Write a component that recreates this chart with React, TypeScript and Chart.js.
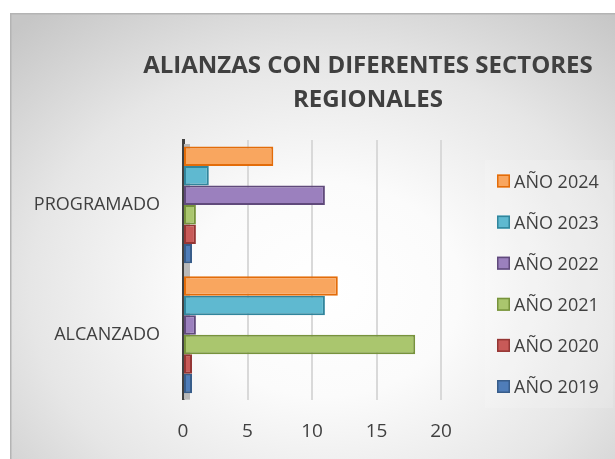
import React, { useEffect, useRef } from "react";
import { Chart, registerables } from "chart.js";

Chart.register(...registerables);

// ---- Data ----
const categories = ["PROGRAMADO", "ALCANZADO"];
const seriesNames = ["AÑO 2024", "AÑO 2023", "AÑO 2022", "AÑO 2021", "AÑO 2020", "AÑO 2019"];
const values2024 = [7, 12];
const values2023 = [2, 11];
const values2022 = [11, 1];
const values2021 = [1, 18];
const values2020 = [1, 0];
const values2019 = [0, 0];
const xTickValues = [0, 5, 10, 15, 20];
const titleLines = ["ALIANZAS CON DIFERENTES SECTORES", "REGIONALES"];

// ---- Styles ----
const fillColors = ["#F9A65F", "#5FB9D0", "#9B80BE", "#AAC66E", "#C85A58", "#4F7DB9"];
const borderColors = ["#E36C09", "#31859C", "#604A7B", "#77933C", "#943634", "#385D8A"];
const FONT = "'Open Sans', 'DejaVu Sans', sans-serif";
const TEXT = "#404040";

const W = 605;
const H = 446;

const decorPlugin = {
  id: "decor",
  beforeDraw(chart: any) {
    const ctx = chart.ctx;
    ctx.save();
    ctx.strokeStyle = "#b4b4b4";
    ctx.lineWidth = 1.5;
    ctx.beginPath();
    ctx.moveTo(0.75, H);
    ctx.lineTo(0.75, 0.75);
    ctx.lineTo(W, 0.75);
    ctx.stroke();
    ctx.restore();
  },
  beforeDatasetsDraw(chart: any) {
    const ctx = chart.ctx;
    const a = chart.chartArea;
    ctx.save();
    ctx.fillStyle = "#b9b9b9";
    ctx.fillRect(a.left + 1, a.top + 4, 6, a.bottom - a.top - 4);
    ctx.restore();
  },
  afterDraw(chart: any) {
    const ctx = chart.ctx;
    ctx.save();
    // Title
    ctx.fillStyle = TEXT;
    ctx.font = `bold 24px ${FONT}`;
    ctx.textAlign = "center";
    ctx.textBaseline = "alphabetic";
    const cx = 358;
    ctx.fillText(titleLines[0], cx, 60);
    ctx.fillText(titleLines[1], cx, 93.5);

    // Legend
    ctx.fillStyle = "rgba(255,255,255,0.14)";
    ctx.fillRect(475, 147, 128, 248);
    const ds = chart.data.datasets;
    ctx.font = `18px ${FONT}`;
    ctx.textAlign = "left";
    for (let i = 0; i < ds.length; i++) {
      const cy = 168 + i * 41.1;
      ctx.fillStyle = ds[i].backgroundColor;
      ctx.fillRect(487, cy - 6.5, 13, 13);
      ctx.strokeStyle = ds[i].borderColor;
      ctx.lineWidth = 1.5;
      ctx.strokeRect(487.75, cy - 5.75, 11.5, 11.5);
      ctx.fillStyle = TEXT;
      ctx.fillText(ds[i].label, 504, cy + 6.5);
    }
    ctx.restore();
  },
};

export default function App() {
  const ref = useRef<HTMLCanvasElement | null>(null);

  useEffect(() => {
    if (!ref.current) return;
    const series = [values2024, values2023, values2022, values2021, values2020, values2019];
    const chart = new Chart(ref.current, {
      type: "bar",
      data: {
        labels: categories,
        datasets: series.map((v, i) => ({
          label: seriesNames[i],
          data: v,
          backgroundColor: fillColors[i],
          borderColor: borderColors[i],
          borderWidth: 2,
          borderSkipped: false,
          minBarLength: 9,
          clip: 0,
          categoryPercentage: 0.9,
          barPercentage: 1,
        })),
      },
      options: {
        indexAxis: "y",
        animation: false,
        responsive: false,
        maintainAspectRatio: false,
        layout: { padding: { top: 127, right: 174, bottom: 16.5, left: 0 } },
        plugins: {
          legend: { display: false },
          title: { display: false },
          tooltip: { enabled: false },
        },
        scales: {
          x: {
            min: 0,
            max: 20,
            afterBuildTicks: (s: any) => {
              s.ticks = xTickValues.map((v) => ({ value: v }));
            },
            afterFit: (s: any) => {
              s.height = 42.8;
            },
            ticks: {
              font: { family: FONT, size: 19 },
              color: TEXT,
              padding: 20,
            },
            grid: { color: "#d9d9d9", lineWidth: 2, drawTicks: false },
            border: { display: false },
          },
          y: {
            afterFit: (s: any) => {
              s.width = 173;
            },
            ticks: {
              font: { family: FONT, size: 18 },
              color: TEXT,
              padding: 23,
            },
            grid: { display: false, drawTicks: false },
            border: { display: true, color: "#404040", width: 3 },
          },
        },
      } as any,
      plugins: [decorPlugin],
    });
    return () => chart.destroy();
  }, []);

  return (
    <div
      style={{
        position: "absolute",
        left: 10,
        top: 13,
        width: W,
        height: H,
        background:
          "radial-gradient(ellipse 75% 80% at 52% 62%, #ffffff 0%, #fbfbfb 30%, #e6e6e6 65%, #c6c6c6 100%)",
      }}
    >
      <canvas ref={ref} width={W} height={H} style={{ width: W, height: H, display: "block" }} />
    </div>
  );
}
